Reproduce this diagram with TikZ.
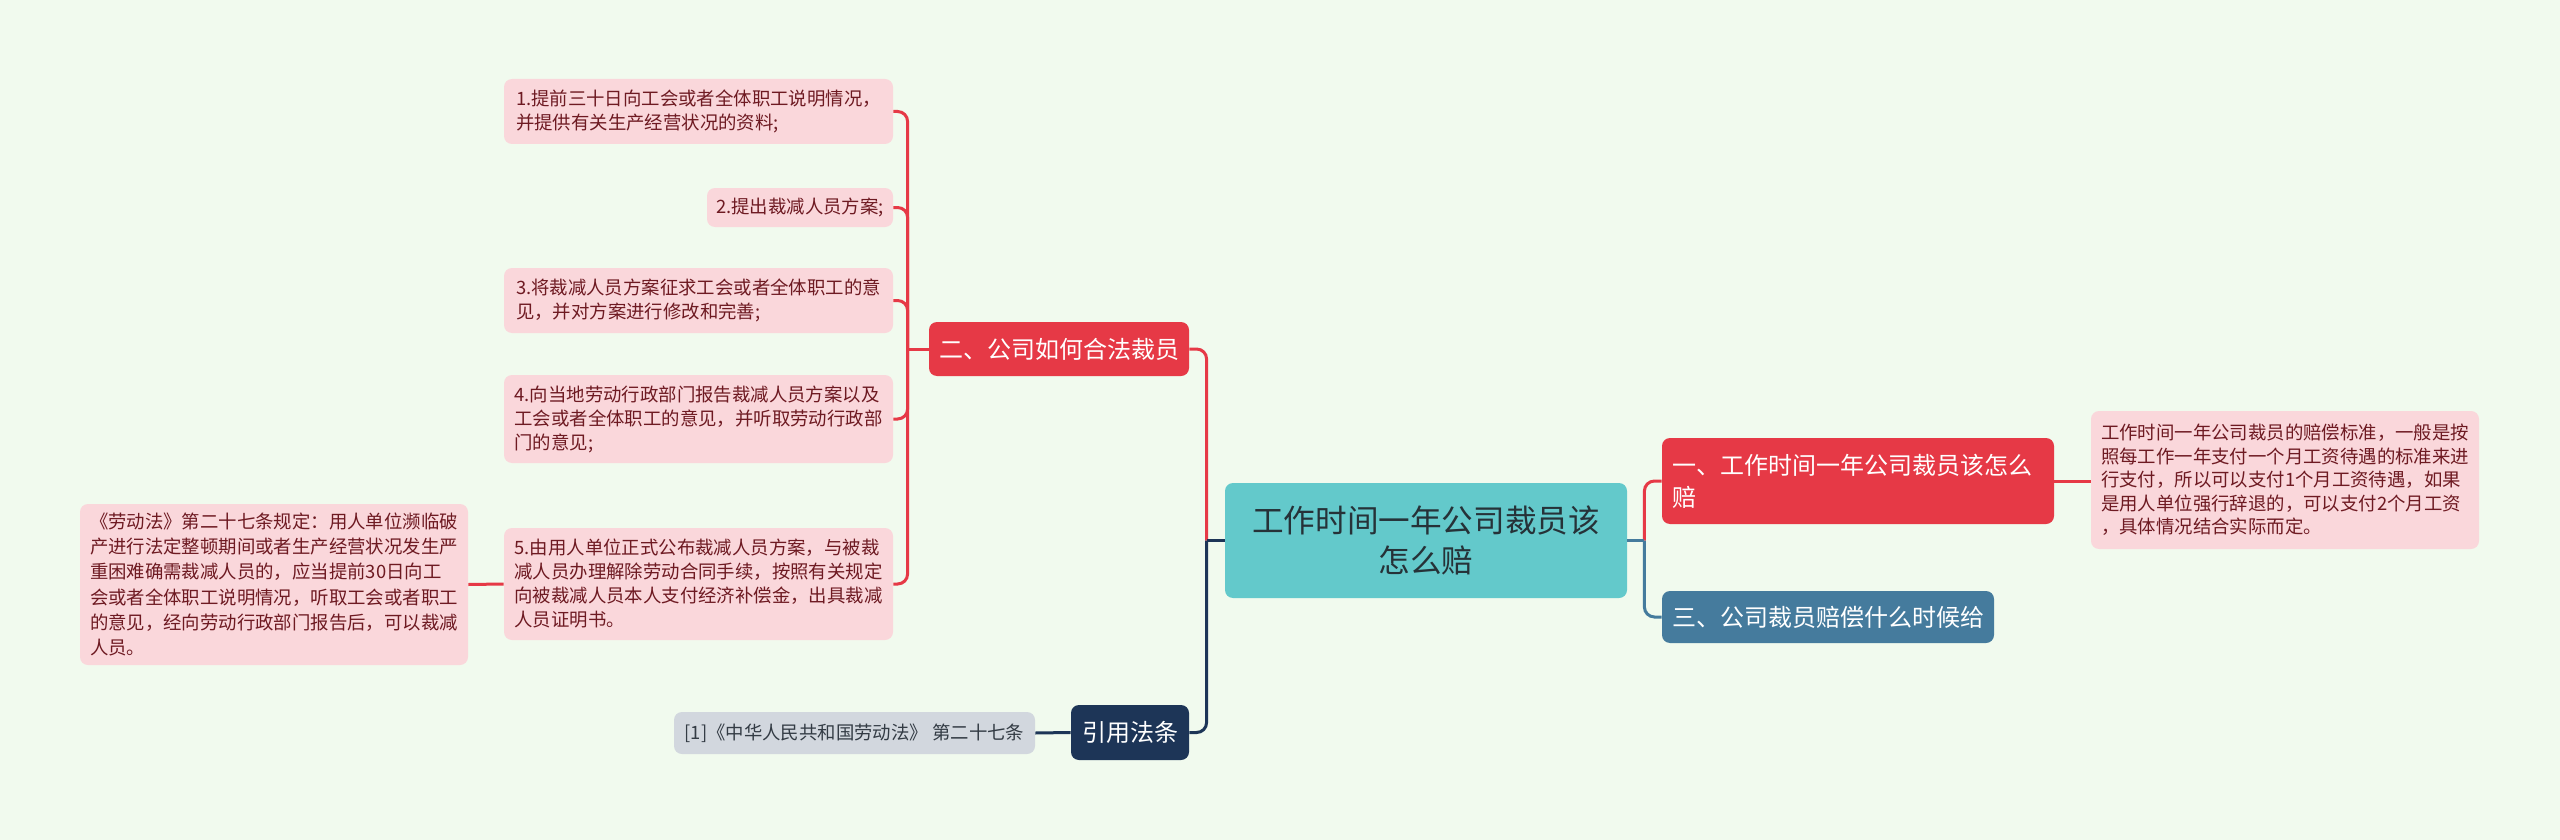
\documentclass[tikz,border=0pt]{standalone}
\usepackage{fontspec}
\setmainfont{Noto Sans CJK SC}
\definecolor{bg}{HTML}{F1FAEE}
\definecolor{cred}{HTML}{E63946}
\definecolor{cblue}{HTML}{457B9D}
\definecolor{cnavy}{HTML}{1D3557}
\definecolor{croot}{HTML}{63C9CB}
\definecolor{cpink}{HTML}{FAD7DB}
\definecolor{cpinktext}{HTML}{6E1A22}
\definecolor{cgray}{HTML}{D2D7DE}
\definecolor{cgraytext}{HTML}{333B44}
\definecolor{croottext}{HTML}{263238}
\begin{document}
\begin{tikzpicture}[x={(0.5pt,0pt)}, y={(0pt,-0.5pt)},
  box/.style={rounded corners=4pt, inner sep=0pt, align=left},
  leaf/.style={box, fill=cpink, text=cpinktext, font=\fontsize{9.2}{12}\selectfont},
  rootbox/.style={box, align=center, fill=croot, text=croottext, font=\fontsize{15.8}{20}\selectfont},
  redbox/.style={box, fill=cred, text=white, font=\fontsize{12}{16}\selectfont},
  bluebox/.style={box, fill=cblue, text=white, font=\fontsize{12}{16}\selectfont},
  navybox/.style={box, fill=cnavy, text=white, font=\fontsize{12}{16}\selectfont},
  graybox/.style={box, fill=cgray, text=cgraytext, font=\fontsize{9.2}{12}\selectfont},
  link/.style={line width=1.5pt, rounded corners=5pt},
]
\fill[bg] (0,0) rectangle (2560,840);
\useasboundingbox (0,0) rectangle (2560,840);

% root
\node[rootbox, minimum width=201pt, minimum height=57.5pt] (root) at (1426,540.5) {工作时间一年公司裁员该\\怎么赔};

% right side
\node[redbox, minimum width=196pt, minimum height=43pt, text width=186pt] (n1) at (1858,481) {一、工作时间一年公司裁员该怎么\\赔};
\node[leaf, minimum width=194pt, minimum height=69pt, font=\fontsize{9.2}{11.7}\selectfont] (d1) at (2285,480) {工作时间一年公司裁员的赔偿标准，一般是按\\照每工作一年支付一个月工资待遇的标准来进\\行支付，所以可以支付1个月工资待遇，如果\\是用人单位强行辞退的，可以支付2个月工资\\，具体情况结合实际而定。};
\node[bluebox, minimum width=166pt, minimum height=26pt] (n3) at (1828,617) {三、公司裁员赔偿什么时候给};

% left side
\node[redbox, minimum width=130pt, minimum height=27pt] (n2) at (1059,349) {二、公司如何合法裁员};
\node[leaf, minimum width=194.5pt, minimum height=32.5pt] (i1) at (698.5,111.5) {1.提前三十日向工会或者全体职工说明情况，\\并提供有关生产经营状况的资料;};
\node[leaf, minimum width=93pt, minimum height=19.5pt] (i2) at (800,207.5) {2.提出裁减人员方案;};
\node[leaf, minimum width=194.5pt, minimum height=32.5pt] (i3) at (698.5,300.5) {3.将裁减人员方案征求工会或者全体职工的意\\见，并对方案进行修改和完善;};
\node[leaf, minimum width=194.5pt, minimum height=44pt] (i4) at (698.5,419) {4.向当地劳动行政部门报告裁减人员方案以及\\工会或者全体职工的意见，并听取劳动行政部\\门的意见;};
\node[leaf, minimum width=194.5pt, minimum height=56pt] (i5) at (698.5,584) {5.由用人单位正式公布裁减人员方案，与被裁\\减人员办理解除劳动合同手续，按照有关规定\\向被裁减人员本人支付经济补偿金，出具裁减\\人员证明书。};
\node[leaf, minimum width=194pt, minimum height=80.5pt, font=\fontsize{9.2}{12.6}\selectfont] (law) at (274,584.5) {《劳动法》第二十七条规定：用人单位濒临破\\产进行法定整顿期间或者生产经营状况发生严\\重困难确需裁减人员的，应当提前30日向工\\会或者全体职工说明情况，听取工会或者职工\\的意见，经向劳动行政部门报告后，可以裁减\\人员。};
\node[navybox, minimum width=59pt, minimum height=27.5pt] (cite) at (1130,732.5) {引用法条};
\node[graybox, minimum width=180.5pt, minimum height=21pt] (ref) at (854.5,733) {[1]《中华人民共和国劳动法》 第二十七条};

% connectors: root left
\draw[link, cred] (root.west) ++(-18,0) |- (n2.east);
\draw[link, cnavy] (root.west) ++(-18,0) |- (cite.east);
\draw[line width=1.5pt, cnavy] (root.west) -- ++(-18,0);
% root right
\draw[link, cred] (root.east) ++(17,0) |- (n1.west);
\draw[link, cblue] (root.east) ++(17,0) |- (n3.west);
\draw[line width=1.5pt, cblue] (root.east) -- ++(17,0);
% n1 to detail
\draw[line width=1.5pt, cred] (n1.east) -- (n1.east -| d1.west);
% n2 to items
\foreach \i in {i1,i2,i3,i4,i5}{
  \draw[link, cred] (n2.west) ++(-21,0) |- (\i.east);
}
\draw[line width=1.5pt, cred] (n2.west) -- ++(-21,0);
% item 5 to law
\draw[line width=1.5pt, cred] (i5.west) -- (law.east);
% cite to ref
\draw[line width=1.5pt, cnavy] (cite.west) -- (ref.east);
\end{tikzpicture}
\end{document}
